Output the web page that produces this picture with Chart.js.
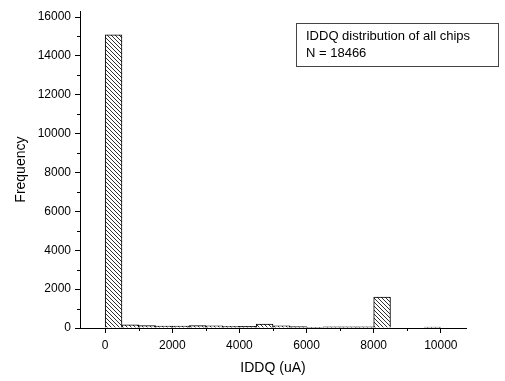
<!DOCTYPE html>
<html>
<head>
<meta charset="utf-8">
<script src="https://cdn.jsdelivr.net/npm/chart.js@4.4.1/dist/chart.umd.min.js"></script>
<style>
  body { margin: 0; background: #fff; }
  canvas { display: block; }
</style>
</head>
<body>
<canvas id="histChart" width="505" height="381"></canvas>
<script>
// histogram bins of 500 uA, centre of each bin
const binCenters = [250, 750, 1250, 1750, 2250, 2750, 3250, 3750, 4250, 4750,
                    5250, 5750, 6250, 6750, 7250, 7750, 8250, 8750, 9250, 9750];
const frequency = [15080, 165, 120, 100, 100, 120, 110, 90, 80, 200,
                   110, 70, 40, 60, 60, 60, 1590, 0, 0, 50];
const xTicks = [0, 2000, 4000, 6000, 8000, 10000];
const xMinorTicks = [1000, 3000, 5000, 7000, 9000];
const yTicks = [0, 2000, 4000, 6000, 8000, 10000, 12000, 14000, 16000];
const yMinorTicks = [1000, 3000, 5000, 7000, 9000, 11000, 13000, 15000];
const boxLines = ['IDDQ distribution of all chips', 'N = 18466'];

const FONT = "'Liberation Sans', Arial, sans-serif";

// diagonal hatch fill
function makeHatch() {
    const s = 4;
    const c = document.createElement('canvas');
    c.width = s; c.height = s;
    const g = c.getContext('2d');
    g.fillStyle = '#fff';
    g.fillRect(0, 0, s, s);
    g.strokeStyle = '#333';
    g.lineWidth = 1;
    g.beginPath();
    g.moveTo(0, 0); g.lineTo(s, s);
    g.moveTo(s - 1, -1); g.lineTo(s + 1, 1);
    g.moveTo(-1, s - 1); g.lineTo(1, s + 1);
    g.stroke();
    return g.createPattern(c, 'repeat');
}

// minor ticks + text box
const extras = {
    id: 'extras',
    afterDraw(chart) {
        const ctx = chart.ctx;
        const xs = chart.scales.x, ys = chart.scales.y;
        const area = chart.chartArea;
        ctx.save();
        ctx.strokeStyle = '#000';
        ctx.lineWidth = 1;
        ctx.beginPath();
        xMinorTicks.forEach(v => {
            const px = Math.round(xs.getPixelForValue(v)) + 0.5;
            ctx.moveTo(px, area.bottom);
            ctx.lineTo(px, area.bottom + 3);
        });
        yMinorTicks.forEach(v => {
            const py = Math.round(ys.getPixelForValue(v)) + 0.5;
            ctx.moveTo(area.left, py);
            ctx.lineTo(area.left - 3, py);
        });
        ctx.stroke();

        // legend box
        ctx.strokeStyle = '#444';
        ctx.strokeRect(296.5, 23.5, 202, 43);
        ctx.fillStyle = '#000';
        ctx.font = '13px ' + FONT;
        ctx.textBaseline = 'middle';
        ctx.textAlign = 'left';
        ctx.fillText(boxLines[0], 306, 36);
        ctx.fillText(boxLines[1], 306, 53);
        ctx.restore();
    }
};

const ctx = document.getElementById('histChart').getContext('2d');
new Chart(ctx, {
    type: 'bar',
    data: {
        datasets: [{
            data: binCenters.map((x, i) => ({ x: x, y: frequency[i] })),
            backgroundColor: makeHatch(),
            borderColor: '#000',
            borderWidth: 1,
            barPercentage: 1,
            categoryPercentage: 1
        }]
    },
    options: {
        responsive: false,
        animation: false,
        layout: { padding: { top: 5, right: 39, left: 0, bottom: 0 } },
        plugins: {
            legend: { display: false },
            tooltip: { enabled: false }
        },
        scales: {
            x: {
                type: 'linear',
                offset: false,
                min: -750,
                max: 10750,
                afterBuildTicks: s => { s.ticks = xTicks.map(v => ({ value: v })); },
                afterFit: s => { s.height = 53; },
                grid: { drawOnChartArea: false, offset: false, tickLength: 5, color: '#000' },
                border: { color: '#000', width: 1 },
                ticks: {
                    color: '#000', padding: 5, maxRotation: 0,
                    font: { family: FONT, size: 12 },
                    callback: v => String(v)
                },
                title: {
                    display: true, text: 'IDDQ (uA)', color: '#000',
                    font: { family: FONT, size: 14 }, padding: { top: 4, bottom: 4 }
                }
            },
            y: {
                min: 0,
                max: 16300,
                afterBuildTicks: s => { s.ticks = yTicks.map(v => ({ value: v })); },
                afterFit: s => { s.width = 80; },
                grid: { drawOnChartArea: false, tickLength: 5, color: '#000' },
                border: { color: '#000', width: 1 },
                ticks: {
                    color: '#000', padding: 4,
                    font: { family: FONT, size: 12 },
                    callback: v => String(v)
                },
                title: {
                    display: true, text: 'Frequency', color: '#000',
                    font: { family: FONT, size: 14 }, padding: { top: 13, bottom: 4 }
                }
            }
        }
    },
    plugins: [extras]
});
</script>
</body>
</html>
